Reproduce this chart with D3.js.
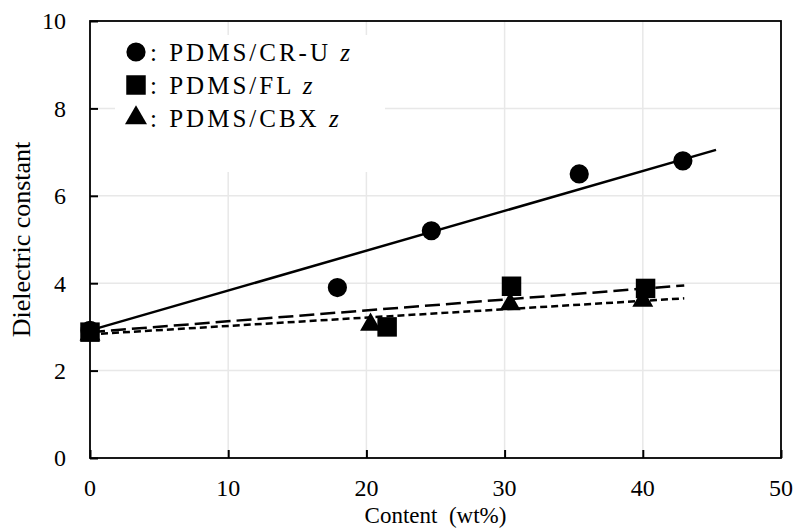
<!DOCTYPE html>
<html>
<head>
<meta charset="utf-8">
<script src="https://cdn.jsdelivr.net/npm/d3@7"></script>
<style>
  body { margin: 0; background: #fff; }
  text { font-family: "Liberation Serif", "Times New Roman", serif; fill: #000; }
</style>
</head>
<body>
<div id="chart"></div>
<script>
// values (content wt% / dielectric constant)
const seriesNames = ["PDMS/CR-U", "PDMS/FL", "PDMS/CBX"];
const crX = [0, 17.9, 24.7, 35.4, 42.9];
const crY = [2.92, 3.9, 5.2, 6.5, 6.8];
const flX = [0, 21.5, 30.5, 40.2];
const flY = [2.88, 3.0, 3.93, 3.88];
const cbX = [0, 20.3, 30.4, 40.0];
const cbY = [2.83, 3.05, 3.52, 3.6];
const trendEnd = [45.3, 43, 43];   // how far each trendline runs
const xTicks = [0, 10, 20, 30, 40, 50];
const yTicks = [0, 2, 4, 6, 8, 10];

const width = 798, height = 529;
const margin = { left: 90, right: 17, top: 21, bottom: 71 };

const svg = d3.select("#chart").append("svg")
    .attr("width", width)
    .attr("height", height);

const x = d3.scaleLinear().domain([0, 50]).range([margin.left, width - margin.right]);
const y = d3.scaleLinear().domain([0, 10]).range([height - margin.bottom, margin.top]);

// grid
svg.append("g").selectAll("line")
    .data(yTicks.slice(1, -1))
    .join("line")
    .attr("x1", x(0)).attr("x2", x(50))
    .attr("y1", d => y(d)).attr("y2", d => y(d))
    .attr("stroke", "#e8e8e8").attr("stroke-width", 1.5);
svg.append("g").selectAll("line")
    .data(xTicks.slice(1, -1))
    .join("line")
    .attr("x1", d => x(d)).attr("x2", d => x(d))
    .attr("y1", y(0)).attr("y2", y(10))
    .attr("stroke", "#e8e8e8").attr("stroke-width", 1.5);

// legend background hides the grid behind it
svg.append("rect")
    .attr("x", 115).attr("y", 35)
    .attr("width", 270).attr("height", 137)
    .attr("fill", "#fff");

const series = [
    { name: seriesNames[0], xs: crX, ys: crY, shape: d3.symbolCircle, size: 290, dash: null },
    { name: seriesNames[1], xs: flX, ys: flY, shape: d3.symbolSquare, size: 380, dash: "15,6" },
    { name: seriesNames[2], xs: cbX, ys: cbY, shape: d3.symbolTriangle, size: 190, dash: "7,4" }
];

// trendlines through the 0 wt% value (fixed intercept)
series.forEach((s, i) => {
    const b = s.ys[0];
    let num = 0, den = 0;
    s.xs.forEach((xv, j) => { num += xv * (s.ys[j] - b); den += xv * xv; });
    const k = num / den;
    svg.append("line")
        .attr("x1", x(0)).attr("y1", y(b))
        .attr("x2", x(trendEnd[i])).attr("y2", y(b + k * trendEnd[i]))
        .attr("stroke", "#000").attr("stroke-width", 2.5)
        .attr("stroke-dasharray", s.dash);
});

// markers: triangles and circles first, squares on top (as in reference)
[series[2], series[0], series[1]].forEach(s => {
    svg.append("g").selectAll("path")
        .data(s.xs.map((xv, j) => [xv, s.ys[j]]))
        .join("path")
        .attr("transform", d => `translate(${x(d[0])},${y(d[1])})`)
        .attr("d", d3.symbol().type(s.shape).size(s.size))
        .attr("fill", "#000");
});

// axes: ticks point inwards, frame all round
const yAxis = svg.append("g")
    .attr("transform", `translate(${x(0)},0)`)
    .call(d3.axisRight(y).tickValues(yTicks).tickSize(8).tickFormat(""));
const xAxis = svg.append("g")
    .attr("transform", `translate(0,${y(0)})`)
    .call(d3.axisTop(x).tickValues(xTicks).tickSize(8).tickFormat(""));
[yAxis, xAxis].forEach(a => {
    a.select(".domain").remove();
    a.selectAll("line").attr("stroke", "#000").attr("stroke-width", 2);
});
svg.append("rect")
    .attr("x", x(0)).attr("y", y(10))
    .attr("width", x(50) - x(0)).attr("height", y(0) - y(10))
    .attr("fill", "none").attr("stroke", "#000").attr("stroke-width", 1.8);

svg.append("g").selectAll("text")
    .data(yTicks)
    .join("text")
    .attr("x", 66).attr("y", d => y(d)).attr("dy", "0.35em")
    .attr("text-anchor", "end").attr("font-size", 24)
    .text(d => d);
svg.append("g").selectAll("text")
    .data(xTicks)
    .join("text")
    .attr("x", d => x(d)).attr("y", y(0) + 38)
    .attr("text-anchor", "middle").attr("font-size", 24)
    .text(d => d);

svg.append("text")
    .attr("x", (x(0) + x(50)) / 2).attr("y", 523)
    .attr("text-anchor", "middle").attr("font-size", 23)
    .style("white-space", "pre")
    .text("Content  (wt%)");
svg.append("text")
    .attr("transform", `translate(30,${(y(0) + y(10)) / 2}) rotate(-90)`)
    .attr("text-anchor", "middle").attr("font-size", 26)
    .text("Dielectric constant");

// legend
const legend = svg.append("g");
series.forEach((s, i) => {
    const ry = 52 + i * 33;
    legend.append("path")
        .attr("transform", `translate(136,${ry})`)
        .attr("d", d3.symbol().type(s.shape).size(s.shape === d3.symbolTriangle ? 210 : s.size))
        .attr("fill", "#000");
    const t = legend.append("text")
        .attr("x", 150).attr("y", ry + 9)
        .attr("font-size", 25)
        .attr("letter-spacing", 3)
        .style("white-space", "pre");
    t.append("tspan").text(": " + s.name + " ");
    t.append("tspan").attr("font-style", "italic").text("z");
});
</script>
</body>
</html>
